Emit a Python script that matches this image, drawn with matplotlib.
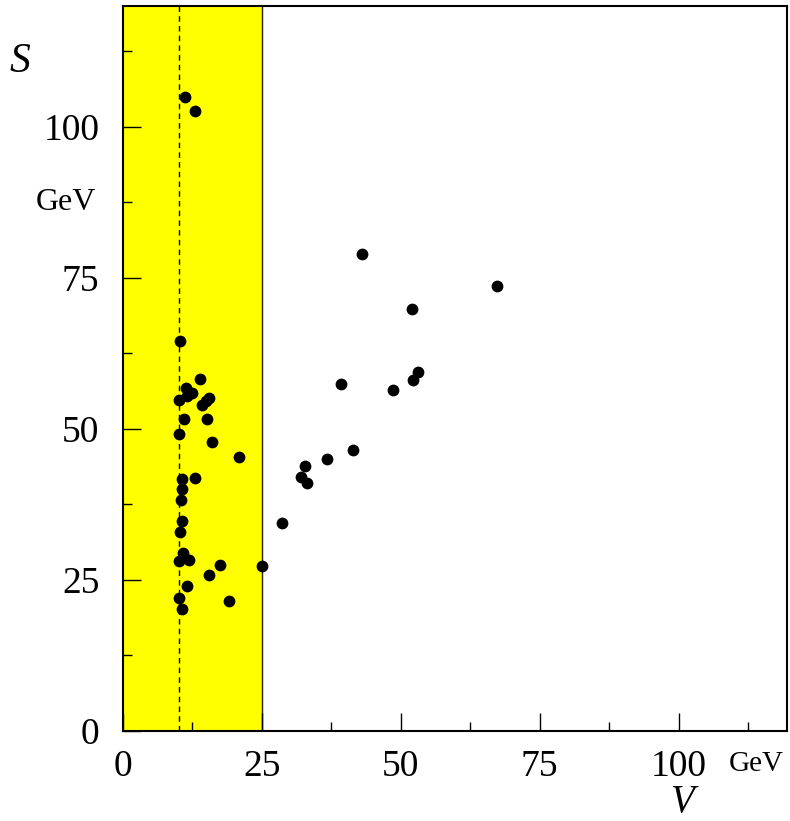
"""Scatter of S against V with the low-V band shaded."""

import matplotlib

matplotlib.use("Agg")
import matplotlib.pyplot as plt

# data (GeV)
v_values = [
    11.2, 13.0, 10.3, 13.9, 11.3, 12.5, 11.5, 10.1, 15.5, 14.9,
    14.2, 11.0, 15.2, 10.1, 16.0, 20.9, 10.6, 12.9, 10.7, 10.5,
    10.7, 10.3, 10.8, 10.1, 11.8, 17.5, 25.1, 15.4, 11.6, 10.0,
    19.1, 10.7,
    43.0, 67.3, 52.0, 53.1, 52.2, 39.2, 48.6, 41.4, 36.8, 32.8,
    32.1, 33.2, 28.7,
]
s_values = [
    105.0, 102.6, 64.6, 58.2, 56.7, 56.0, 55.4, 54.8, 55.1, 54.6,
    54.0, 51.7, 51.7, 49.1, 47.9, 45.3, 41.7, 41.8, 40.1, 38.3,
    34.7, 33.0, 29.5, 28.1, 28.3, 27.5, 27.3, 25.9, 24.0, 22.0,
    21.5, 20.2,
    78.9, 73.6, 69.9, 59.4, 58.1, 57.4, 56.5, 46.5, 45.1, 43.8,
    42.1, 41.0, 34.5,
]
band_edges = [0, 25]
cut_value = 10
major_ticks = [0, 25, 50, 75, 100]
minor_ticks = [12.5, 37.5, 62.5, 87.5, 112.5]


def main():
    serif = ["Liberation Serif", "DejaVu Serif"]
    fig = plt.figure(figsize=(7.9, 8.21), dpi=100)
    ax = fig.add_axes([0.1557, 0.1096, 0.8405, 0.8831])

    ax.axvspan(*band_edges, color="#ffff00", zorder=0)
    ax.axvline(band_edges[1], color="#222200", lw=1.0, zorder=1)
    ax.axvline(cut_value, color="black", lw=1.0, ls=(0, (4, 3)), zorder=1)
    ax.scatter(v_values, s_values, s=72, color="black", zorder=3, linewidths=0)

    ax.set_xlim(0, 119.5)
    ax.set_ylim(0, 120)

    ax.set_xticks(major_ticks)
    ax.set_yticks(major_ticks)
    ax.set_xticks(minor_ticks, minor=True)
    ax.set_yticks(minor_ticks, minor=True)
    ax.set_xticklabels([str(t) for t in major_ticks], family=serif, fontsize=27)
    ax.set_yticklabels([str(t) for t in major_ticks], family=serif, fontsize=27)
    ax.tick_params(which="both", direction="in", top=False, right=False, width=1)
    ax.tick_params(which="major", length=13)
    ax.tick_params(which="minor", length=6.5)
    ax.tick_params(axis="x", which="major", pad=13)
    ax.tick_params(axis="y", which="major", pad=17)
    for spine in ax.spines.values():
        spine.set_linewidth(1.5)

    ax.text(-0.04, 87.5, "GeV", transform=ax.get_yaxis_transform(),
            ha="right", va="center", family=serif, fontsize=23)
    fig.text(756 / 790, 1 - 764 / 821, "GeV", ha="center", va="center",
             family=serif, fontsize=21)
    fig.text(20 / 790, 1 - 62 / 821, "S", ha="center", va="center",
             family=serif, style="italic", fontsize=30)
    fig.text(683 / 790, 1 - 802 / 821, "V", ha="center", va="center",
             family=serif, style="italic", fontsize=28)

    fig.savefig("out.png", dpi=100, facecolor="white")


if __name__ == "__main__":
    main()
